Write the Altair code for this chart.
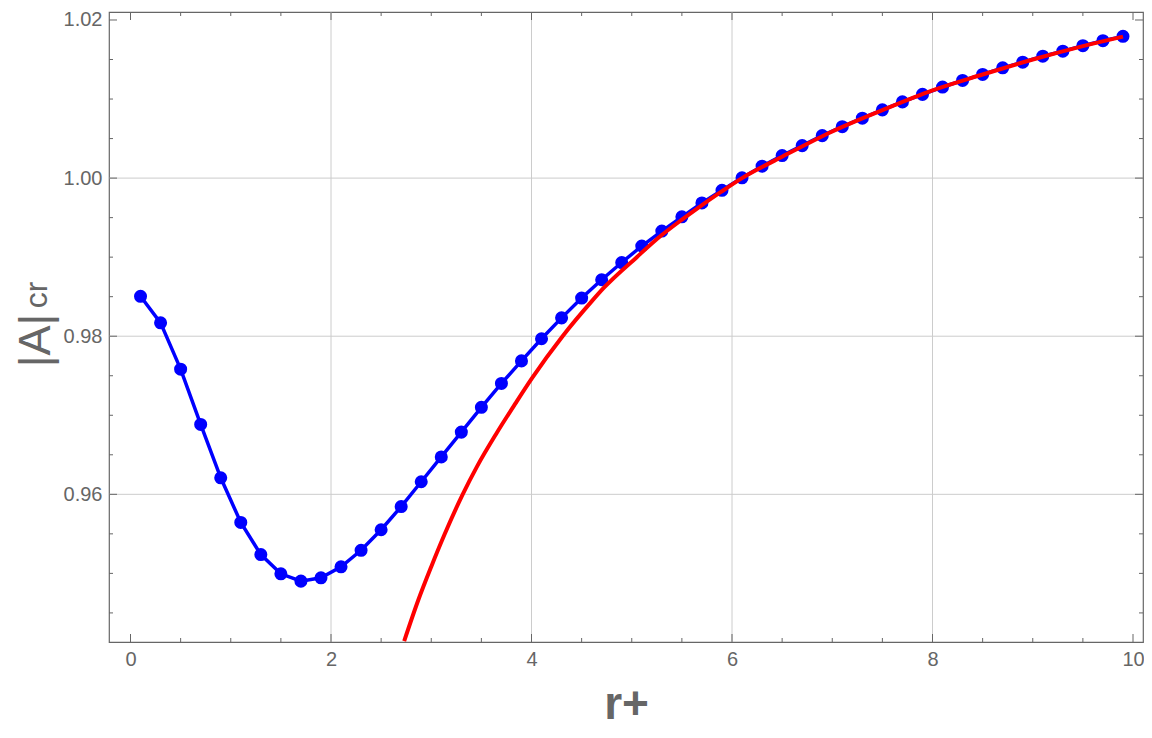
import altair as alt
import pandas as pd

# ---- data ----
r_blue = [0.1, 0.3, 0.5, 0.7, 0.9, 1.1, 1.3, 1.5, 1.7, 1.9,
          2.1, 2.3, 2.5, 2.7, 2.9, 3.1, 3.3, 3.5, 3.7, 3.9,
          4.1, 4.3, 4.5, 4.7, 4.9, 5.1, 5.3, 5.5, 5.7, 5.9,
          6.1, 6.3, 6.5, 6.7, 6.9, 7.1, 7.3, 7.5, 7.7, 7.9,
          8.1, 8.3, 8.5, 8.7, 8.9, 9.1, 9.3, 9.5, 9.7, 9.9]
a_blue = [0.98505, 0.98169, 0.97583, 0.96884, 0.96209, 0.95644, 0.95238, 0.94995, 0.94902, 0.94944,
          0.95083, 0.95292, 0.95552, 0.95845, 0.96159, 0.96473, 0.96787, 0.97101, 0.97403, 0.97688,
          0.97968, 0.98232, 0.98483, 0.98714, 0.98932, 0.99141, 0.99330, 0.99510, 0.99686, 0.99845,
          1.00004, 1.00151, 1.00285, 1.00411, 1.00537, 1.00650, 1.00758, 1.00863, 1.00964, 1.01059,
          1.01152, 1.01235, 1.01311, 1.01395, 1.01466, 1.01542, 1.01605, 1.01675, 1.01738, 1.01793]

r_red = [2.73, 2.87, 3.00, 3.13, 3.31, 3.46, 3.65, 3.84, 4.00, 4.31, 4.60, 4.72, 5.05,
         5.29, 5.49, 5.69, 5.89, 6.10, 6.50, 7.00, 7.50, 8.00, 8.50, 9.00, 9.50, 9.90]
a_red = [0.94144, 0.94660, 0.95085, 0.95485, 0.95990, 0.96360, 0.96770, 0.97150, 0.97460, 0.98000,
         0.98440, 0.98610, 0.99000, 0.99270, 0.99465, 0.99650, 0.99825, 1.00000, 1.00270, 1.00590,
         1.00860, 1.01110, 1.01310, 1.01500, 1.01670, 1.01790]

x_major = [0, 2, 4, 6, 8, 10]
x_minor = [0.5, 1, 1.5, 2.5, 3, 3.5, 4.5, 5, 5.5, 6.5, 7, 7.5, 8.5, 9, 9.5]
y_major = [0.96, 0.98, 1.00, 1.02]
y_minor = [0.945, 0.95, 0.955, 0.965, 0.97, 0.975, 0.985, 0.99, 0.995, 1.005, 1.01, 1.015]
x_grid = [2, 4, 6, 8]
y_grid = [0.96, 0.98, 1.00]

W, H = 1034, 630
GRAY = "#666666"
FONT = "Liberation Sans"

xs = alt.Scale(domain=[-0.2145, 10.0997], nice=False, zero=False)
ys = alt.Scale(domain=[0.94132, 1.02101], nice=False, zero=False)

x_axis = alt.Axis(values=x_major, ticks=False, domain=False, grid=False,
                  labelFontSize=20, labelColor=GRAY, labelFont=FONT, labelPadding=7,
                  title="r+", titleFontSize=46, titleFontWeight="bold", titleColor=GRAY,
                  titleFont=FONT, titleBaseline="alphabetic", titleY=76)
y_axis = alt.Axis(values=y_major, format=".2f", ticks=False, domain=False, grid=False,
                  labelFontSize=20, labelColor=GRAY, labelFont=FONT, labelPadding=7,
                  title="|A|", titleFontSize=45, titleFontWeight="normal", titleColor=GRAY,
                  titleFont=FONT, titleAngle=270, titleBaseline="alphabetic",
                  titleAlign="center", titleX=-60, titleY=328)

XE = lambda f: alt.X(f, scale=xs, axis=x_axis)
YE = lambda f: alt.Y(f, scale=ys, axis=y_axis)

blue_df = pd.DataFrame({"r": r_blue, "a": a_blue})
red_df = pd.DataFrame({"r": r_red, "a": a_red})


def vdf(v):
    return pd.DataFrame({"v": v})


# grid lines
xgrid = alt.Chart(vdf(x_grid)).mark_rule(color="#cccccc", strokeWidth=1).encode(x=XE("v:Q"))
ygrid = alt.Chart(vdf(y_grid)).mark_rule(color="#cccccc", strokeWidth=1).encode(y=YE("v:Q"))


# inward frame ticks
def xticks(vals, length):
    base = alt.Chart(vdf(vals)).mark_rule(color=GRAY, strokeWidth=1)
    bot = base.encode(x=XE("v:Q"), y=alt.value(H), y2=alt.value(H - length))
    top = base.encode(x=XE("v:Q"), y=alt.value(0), y2=alt.value(length))
    return [bot, top]


def yticks(vals, length):
    base = alt.Chart(vdf(vals)).mark_rule(color=GRAY, strokeWidth=1)
    left = base.encode(y=YE("v:Q"), x=alt.value(0), x2=alt.value(length))
    right = base.encode(y=YE("v:Q"), x=alt.value(W), x2=alt.value(W - length))
    return [left, right]


tick_layers = xticks(x_major, 8) + xticks(x_minor, 4) + yticks(y_major, 8) + yticks(y_minor, 4)

blue_line = alt.Chart(blue_df).mark_line(color="#0000ff", strokeWidth=3.5).encode(
    x=XE("r:Q"), y=YE("a:Q"))
blue_pts = alt.Chart(blue_df).mark_point(filled=True, size=170, color="#0000ff", opacity=1).encode(
    x=XE("r:Q"), y=YE("a:Q"))
red_line = alt.Chart(red_df).mark_line(color="#ff0000", strokeWidth=4, interpolate="monotone",
                                       clip=True).encode(x=XE("r:Q"), y=YE("a:Q"))

sub = alt.Chart(pd.DataFrame({"t": ["cr"]})).mark_text(
    angle=270, fontSize=32, font=FONT, color=GRAY, align="center", baseline="alphabetic").encode(
    text="t:N", x=alt.value(-62), y=alt.value(283))

chart = alt.layer(xgrid, ygrid, *tick_layers, blue_line, blue_pts, red_line, sub).properties(
    width=W, height=H,
    autosize=alt.AutoSizeParams(type="none"),
    padding={"left": 101, "top": 4, "right": 1, "bottom": 86},
    background="white",
).configure_view(stroke=GRAY, strokeWidth=1.2)

chart.save("out.html", embed_options={"renderer": "svg", "actions": False})
